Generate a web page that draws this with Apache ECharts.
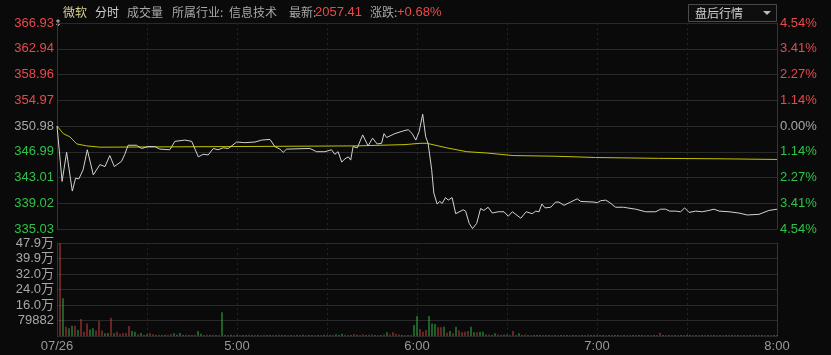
<!DOCTYPE html>
<html>
<head>
<meta charset="utf-8">
<script src="https://cdn.jsdelivr.net/npm/echarts@6/dist/echarts.min.js"></script>
<style>
html, body { margin: 0; padding: 0; background: #0a0a0a; }
#main { width: 831px; height: 355px; }
</style>
</head>
<body>
<div id="main"></div>
<script>
// previous close and price tick step
var baseClose = 350.98;
var tickStep = 3.9875;
var priceLabels = ['335.03', '339.02', '343.01', '346.99', '350.98', '354.97', '358.96', '362.94', '366.93'];
var pctLabels = ['4.54%', '3.41%', '2.27%', '1.14%', '0.00%', '1.14%', '2.27%', '3.41%', '4.54%'];
var volStep = 79882;
var volLabels = ['', '79882', '16.0万', '24.0万', '32.0万', '39.9万', '47.9万'];
var timeLabels = { 0: '07/26', 60: '5:00', 120: '6:00', 180: '7:00', 240: '8:00' };

// price line (minute from 4:00, price)
var priceMin = [0, 1.7, 3.2, 5.1, 6.2, 7.3, 8.7, 10.1, 12.1, 14.3, 16, 17.6, 19.1, 21.5, 22.6, 23.7, 26.5, 28.2, 30.3, 32.6,
  34.3, 37.6, 39.3, 42.6, 44.9, 47.1, 48.7, 50.4, 52.1, 53.7, 55.4, 57.1, 59.9, 62.6, 66, 68.2, 71, 72.6, 74.3, 75.4,
  76.5, 84.3, 86.5, 89.3, 91.5, 92.6, 93.7, 94.9, 96, 97.1, 97.9, 98.7, 100.1, 101.9, 103.7, 105.2, 106.7, 108.2, 109, 109.9,
  112.6, 116, 117.1, 118.4, 119.6, 120.7, 121.9, 122.9, 123.7, 124.9, 125.6, 126.7, 127.6, 128.4, 129.5, 130.4, 131.7, 132.9, 135.4, 136.2,
  137.4, 138.5, 139.9, 141.2, 142.3, 143.7, 145.1, 147.1, 149, 150.4, 151.8, 154.6, 156.4, 158.4, 159.6, 160.7, 161.6, 162.7, 164.6, 166.2,
  167.3, 169, 171.2, 173.4, 174.6, 179, 180.1, 181.2, 182.9, 184, 186.2, 188.9, 190.1, 192.9, 196.2, 199.6, 201.2, 202.9, 204.2, 206.2,
  207.9, 209.2, 210.7, 212.9, 215.1, 217.3, 219, 220.7, 224, 227.3, 230.1, 234, 237.3, 240];
var priceVal = [350.98, 342.4, 346.9, 340.9, 342.9, 342.8, 344.2, 347.3, 343.4, 345.0, 344.7, 346.4, 344.7, 345.5, 346.6, 348.0, 348.0, 347.5, 347.8, 347.8,
  347.4, 347.3, 348.6, 348.8, 348.6, 346.2, 346.6, 346.5, 347.5, 347.3, 347.6, 347.5, 348.5, 348.4, 348.5, 348.8, 348.9, 347.8, 347.4, 346.9,
  347.4, 347.5, 347.0, 347.0, 347.3, 346.6, 347.0, 345.4, 345.9, 346.2, 345.7, 347.8, 347.6, 349.6, 347.9, 349.1, 348.2, 348.3, 349.8, 349.2,
  349.8, 350.3, 350.4, 349.8, 348.8, 350.1, 352.8, 349.3, 348.3, 344.2, 340.6, 338.9, 339.3, 339.0, 339.9, 339.5, 339.9, 337.4, 338.0, 337.8,
  335.9, 335.1, 335.9, 338.2, 337.9, 338.4, 337.5, 337.7, 337.7, 337.0, 337.7, 336.7, 337.7, 337.4, 337.8, 337.7, 338.9, 338.3, 338.4, 339.2,
  339.2, 338.7, 339.2, 339.7, 339.3, 339.2, 339.1, 339.4, 339.5, 339.2, 338.4, 338.4, 338.3, 338.1, 337.7, 337.7, 338.1, 338.1, 337.8, 337.8,
  337.7, 338.3, 337.6, 337.8, 337.7, 337.9, 338.1, 337.8, 337.7, 337.5, 337.2, 337.3, 337.9, 338.1];

// average price line
var avgMin = [0, 2.1, 4.3, 6.6, 9.9, 14.3, 60, 100, 116, 121, 123.3, 129.9, 136.6, 143.2, 152.1, 166, 179.5, 200.5, 221, 240];
var avgVal = [350.98, 349.8, 349.3, 348.2, 347.9, 347.7, 347.8, 347.9, 348.1, 348.3, 348.3, 347.6, 347.0, 346.8, 346.4, 346.3, 346.1, 345.97, 345.9, 345.8];

// volume per minute (bar k sits at minute k+1)
var volume = [
  478000, 194000, 48000, 40000, 53000, 53000, 31000, 88000, 22000, 65000,
  34000, 40000, 28000, 79000, 28000, 14000, 16000, 94000, 14000, 22000,
  12000, 14000, 16000, 51000, 26000, 22000, 9000, 16000, 4000, 9000,
  14000, 9000, 5000, 6000, 5000, 7000, 6000, 9000, 14000, 6000,
  16000, 5000, 6000, 5000, 4000, 6000, 26000, 12000, 5000, 7000,
  5000, 6000, 4000, 5000, 122000, 5000, 4000, 6000, 3000, 5000,
  4000, 3000, 5000, 6000, 4000, 3000, 5000, 4000, 7000, 3000,
  5000, 4000, 3000, 6000, 4000, 5000, 3000, 4000, 5000, 3000,
  4000, 6000, 3000, 5000, 4000, 3000, 5000, 4000, 6000, 3000,
  5000, 4000, 9000, 5000, 12000, 6000, 5000, 4000, 10000, 6000,
  4000, 9000, 5000, 6000, 8000, 4000, 5000, 3000, 8000, 19000,
  8000, 19000, 11000, 8000, 3000, 3000, 4000, 4000, 57000, 103000,
  36000, 22000, 31000, 103000, 65000, 62000, 45000, 45000, 48000, 17000,
  26000, 14000, 48000, 28000, 19000, 22000, 26000, 48000, 19000, 19000,
  22000, 22000, 8000, 8000, 3000, 14000, 8000, 3000, 8000, 8000,
  3000, 26000, 5000, 14000, 3000, 8000, 3000, 4000, 3000, 3000,
  3000, 2000, 4000, 3000, 2000, 3000, 3000, 2000, 4000, 3000,
  2000, 3000, 3000, 2000, 3000, 3000, 8000, 2000, 3000, 2000,
  3000, 2000, 3000, 3000, 2000, 4000, 3000, 2000, 3000, 2000,
  3000, 2000, 3000, 2000, 3000, 3000, 2000, 3000, 2000, 3000,
  17000, 3000, 2000, 3000, 2000, 3000, 3000, 2000, 3000, 2000,
  3000, 2000, 3000, 3000, 2000, 3000, 2000, 3000, 2000, 3000,
  2000, 3000, 2000, 3000, 3000, 2000, 3000, 2000, 3000, 2000,
  3000, 2000, 3000, 2000, 3000, 3000, 2000, 3000, 2000, 3000
];
// r = up minute, g = down minute
var volDir = [
  'rgrggrgrrr', 'ggrrrggrgr', 'rrrrggrggg', 'rrgrggrrgg', 'ggrggrggrr',
  'grgrggrgrg', 'rggrgrgrrg', 'grgrggrgrg', 'rgrggrgrgr', 'grgggrrgrg',
  'rrgrrgrgrg', 'rrrrgrgrgg', 'rrrgggrrgr', 'grgrrrrggr', 'gggrggrggg',
  'rrrggrgrgg', 'grggrgrgrg', 'rggrgrrggr', 'ggrgrggrgr', 'rgrggrgrgr',
  'rgrgrgrgrg', 'grgrgrgrgr', 'grgrgrgrgr', 'grgrgrgrgr'
].join('');

var RED = '#e8494b', GREEN = '#2fc24a', GRAY = '#a8a8a8';

function toTick(p) { return (p - baseClose) / tickStep; }

var priceData = priceMin.map(function (m, i) { return [m, toTick(priceVal[i])]; });
var avgData = avgMin.map(function (m, i) { return [m, toTick(avgVal[i])]; });
var volData = volume.map(function (v, k) {
  return { value: [k + 1, v], itemStyle: { color: volDir[k] === 'r' ? '#c8413f' : '#2fb344' } };
});

function tickColor(v) {
  var i = Math.round(v);
  return i > 0 ? RED : (i < 0 ? GREEN : GRAY);
}

var axisFont = '"Liberation Sans", "Noto Sans CJK SC", sans-serif';
var cjkFont = '"Noto Sans CJK SC", sans-serif';
var numFont = '"Liberation Sans", sans-serif';

var dom = document.getElementById('main');
var myChart = echarts.init(dom, null, { renderer: 'canvas' });

var option = {
  backgroundColor: '#0a0a0a',
  animation: false,
  grid: [
    { left: 57, right: 54, top: 23, height: 206 },
    { left: 57, right: 54, top: 243, height: 93 }
  ],
  xAxis: [
    {
      type: 'value', gridIndex: 0, min: 0, max: 240, interval: 30,
      axisLine: { show: false }, axisTick: { show: false }, axisLabel: { show: false },
      splitLine: { show: true, lineStyle: { color: '#242424', type: [2, 3] } }
    },
    {
      type: 'value', gridIndex: 1, min: 0, max: 240, interval: 30,
      axisLine: { show: false }, axisTick: { show: false },
      axisLabel: {
        color: '#9a9a9a', fontSize: 13, fontFamily: axisFont, margin: 4,
        formatter: function (v) { return timeLabels[v] || ''; }
      },
      splitLine: { show: true, lineStyle: { color: '#242424', type: [2, 3] } }
    }
  ],
  yAxis: [
    {
      type: 'value', gridIndex: 0, min: -4, max: 4, interval: 1, position: 'left',
      axisLine: { show: true, lineStyle: { color: '#353535' } }, axisTick: { show: false },
      axisLabel: {
        fontSize: 13, fontFamily: axisFont, margin: 3,
        color: tickColor,
        formatter: function (v) { return priceLabels[Math.round(v) + 4]; }
      },
      splitLine: { show: true, lineStyle: { color: '#2a2a2a' } }
    },
    {
      type: 'value', gridIndex: 0, min: -4, max: 4, interval: 1, position: 'right',
      axisLine: { show: true, lineStyle: { color: '#353535' } }, axisTick: { show: false },
      axisLabel: {
        fontSize: 13, fontFamily: axisFont, margin: 3,
        color: tickColor,
        formatter: function (v) { return pctLabels[Math.round(v) + 4]; }
      },
      splitLine: { show: false }
    },
    {
      type: 'value', gridIndex: 1, min: 0, max: volStep * 6, interval: volStep, position: 'left',
      axisLine: { show: true, lineStyle: { color: '#353535' } }, axisTick: { show: false },
      axisLabel: {
        fontSize: 13, fontFamily: axisFont, margin: 3, color: GRAY,
        formatter: function (v) { return volLabels[Math.round(v / volStep)]; }
      },
      splitLine: { show: true, lineStyle: { color: '#2a2a2a' } }
    },
    {
      type: 'value', gridIndex: 1, min: 0, max: volStep * 6, interval: volStep, position: 'right',
      axisLine: { show: true, lineStyle: { color: '#353535' } }, axisTick: { show: false },
      axisLabel: { show: false }, splitLine: { show: false }
    }
  ],
  series: [
    {
      name: '均价', type: 'line', xAxisIndex: 0, yAxisIndex: 0, data: avgData,
      symbol: 'none', lineStyle: { color: '#c4c400', width: 1 }, silent: true
    },
    {
      name: '价格', type: 'line', xAxisIndex: 0, yAxisIndex: 0, data: priceData,
      symbol: 'none', lineStyle: { color: '#d2d2d2', width: 1 }, silent: true
    },
    {
      name: '成交量', type: 'bar', xAxisIndex: 1, yAxisIndex: 2, data: volData,
      barWidth: 1, barMinHeight: 1, silent: true
    }
  ],
  graphic: [
    { type: 'text', x: 63, y: 12, style: { text: '微软', fill: '#d6cf8c', font: '12px ' + cjkFont, verticalAlign: 'middle' } },
    { type: 'text', x: 95, y: 12, style: { text: '分时', fill: '#cfcfcf', font: '12px ' + cjkFont, verticalAlign: 'middle' } },
    { type: 'text', x: 127, y: 12, style: { text: '成交量', fill: '#a8a8a8', font: '12px ' + cjkFont, verticalAlign: 'middle' } },
    { type: 'text', x: 172, y: 12, style: { text: '所属行业:', fill: '#a8a8a8', font: '12px ' + cjkFont, verticalAlign: 'middle' } },
    { type: 'text', x: 229, y: 12, style: { text: '信息技术', fill: '#a8a8a8', font: '12px ' + cjkFont, verticalAlign: 'middle' } },
    { type: 'text', x: 289, y: 12, style: { text: '最新:', fill: '#a8a8a8', font: '12px ' + cjkFont, verticalAlign: 'middle' } },
    { type: 'text', x: 315, y: 12, style: { text: '2057.41', fill: RED, font: '13px ' + numFont, verticalAlign: 'middle' } },
    { type: 'text', x: 370, y: 12, style: { text: '涨跌:', fill: '#a8a8a8', font: '12px ' + cjkFont, verticalAlign: 'middle' } },
    { type: 'text', x: 397, y: 12, style: { text: '+0.68%', fill: RED, font: '13px ' + numFont, verticalAlign: 'middle' } },
    { type: 'rect', shape: { x: 688.5, y: 4.5, width: 88, height: 17 }, style: { fill: '#0e0e0e', stroke: '#4a4a4a', lineWidth: 1 } },
    { type: 'text', x: 695, y: 13, style: { text: '盘后行情', fill: '#cfcfcf', font: '12px ' + cjkFont, verticalAlign: 'middle' } },
    { type: 'polygon', shape: { points: [[763, 11], [771, 11], [767, 15]] }, style: { fill: '#bbbbbb' } },
    { type: 'text', x: 54, y: 24, style: { text: '⇕', fill: '#d8d8d8', font: '9px "DejaVu Sans"', verticalAlign: 'middle' } }
  ]
};

if (option && typeof option === 'object') {
  myChart.setOption(option, true);
}
</script>
</body>
</html>
